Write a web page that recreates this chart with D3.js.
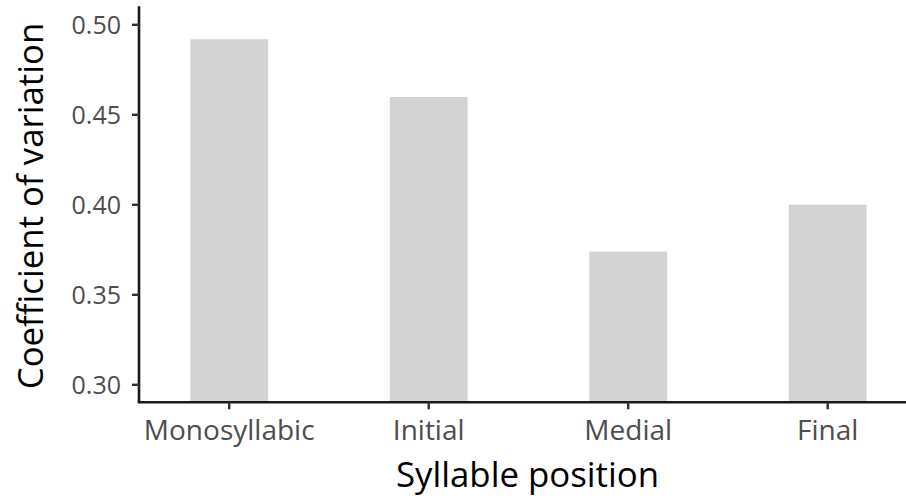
<!DOCTYPE html>
<html>
<head>
<meta charset="utf-8">
<script src="https://cdn.jsdelivr.net/npm/d3@7"></script>
<style>
  html, body { margin: 0; padding: 0; background: #fff; }
  svg { display: block; }
  text { font-family: "Open Sans", "Noto Sans", sans-serif; }
</style>
</head>
<body>
<svg id="chart" width="906" height="499"></svg>
<script>
const categories = ["Monosyllabic", "Initial", "Medial", "Final"];
const values = [0.4917, 0.4596, 0.3737, 0.3998];
const yTicks = [0.30, 0.35, 0.40, 0.45, 0.50];
const xTitle = "Syllable position";
const yTitle = "Coefficient of variation";

const W = 906, H = 499;
const axisX = 139, axisY = 402.3, topY = 6.3;

const svg = d3.select("#chart");

const y = d3.scaleLinear().domain([0.29, 0.51]).range([axisY, topY]);
const x = d3.scaleBand().domain(categories).range([129.45, 927.45]).padding(0);
const barW = x.bandwidth() * 0.39;

const data = categories.map((c, i) => ({ c, v: values[i] }));

// bars
svg.append("g").selectAll("rect").data(data).join("rect")
  .attr("x", d => x(d.c) + x.bandwidth() / 2 - barW / 2)
  .attr("width", barW)
  .attr("y", d => y(d.v))
  .attr("height", d => axisY - y(d.v))
  .attr("fill", "#d3d3d3");

// y axis
const yAxis = svg.append("g").attr("transform", `translate(${axisX},0)`)
  .call(d3.axisLeft(y).tickValues(yTicks).tickFormat(d3.format(".2f")).tickSize(7).tickPadding(11));
yAxis.select(".domain").attr("stroke", "#1a1a1a").attr("stroke-width", 2.6)
  .attr("d", `M0,${topY}V${axisY}`);
yAxis.selectAll(".tick line").attr("stroke", "#333").attr("stroke-width", 2.4);
yAxis.selectAll(".tick text").attr("fill", "#4d4d4d").attr("font-size", 25).attr("dy", "0.36em");

// x axis
const xAxis = svg.append("g").attr("transform", `translate(0,${axisY})`)
  .call(d3.axisBottom(x).tickSize(7).tickPadding(11));
xAxis.select(".domain").attr("stroke", "#1a1a1a").attr("stroke-width", 2.6)
  .attr("d", `M${axisX - 1.3},0H${W}`);
xAxis.selectAll(".tick line").attr("stroke", "#333").attr("stroke-width", 2.4);
xAxis.selectAll(".tick text").attr("fill", "#4d4d4d").attr("font-size", 28);

// titles
svg.append("text").attr("x", 527.5).attr("y", 487).attr("text-anchor", "middle")
  .attr("font-size", 34.8).attr("fill", "#000").text(xTitle);
svg.append("text").attr("transform", `translate(43,206) rotate(-90)`).attr("text-anchor", "middle")
  .attr("font-size", 34.8).attr("fill", "#000").text(yTitle);
</script>
</body>
</html>
